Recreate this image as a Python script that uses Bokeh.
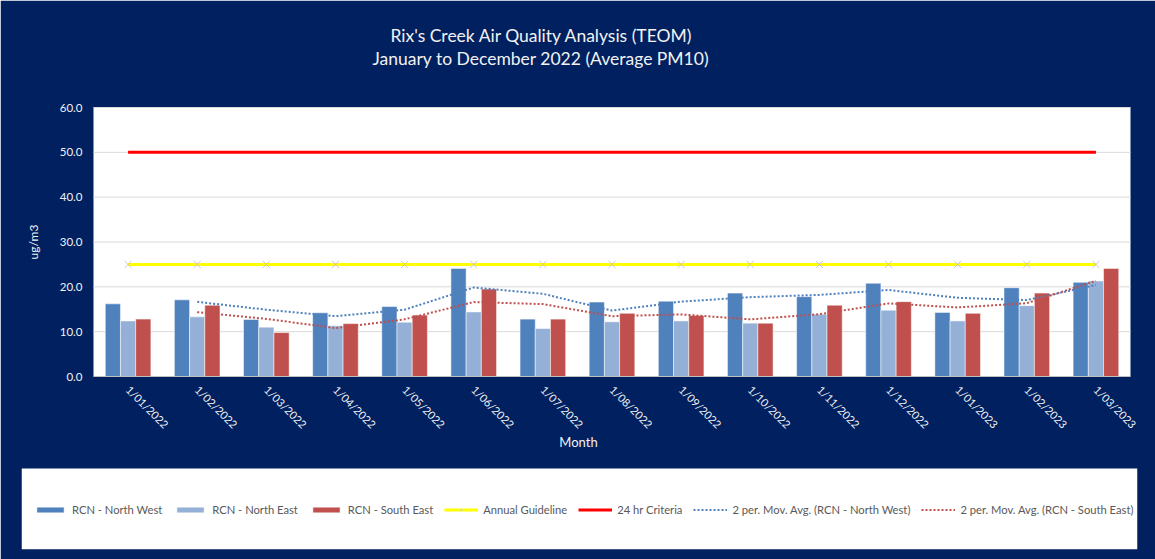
import math
import pandas as pd
from bokeh.plotting import figure
from bokeh.models import (ColumnDataSource, Legend, LegendItem, NumeralTickFormatter,
                          FixedTicker, Range1d, Title, BoxAnnotation, Label)
from bokeh.transform import dodge
from bokeh.embed import file_html
from bokeh.resources import INLINE

# ---------------- data ----------------
months = ["1/01/2022", "1/02/2022", "1/03/2022", "1/04/2022", "1/05/2022", "1/06/2022",
          "1/07/2022", "1/08/2022", "1/09/2022", "1/10/2022", "1/11/2022", "1/12/2022",
          "1/01/2023", "1/02/2023", "1/03/2023"]
north_west = [16.2, 17.1, 12.7, 14.2, 15.6, 24.1, 12.8, 16.6, 16.8, 18.6, 17.8, 20.8, 14.3, 19.8, 21.0]
north_east = [12.4, 13.3, 11.0, 11.3, 12.1, 14.4, 10.7, 12.2, 12.4, 11.9, 13.9, 14.8, 12.4, 15.8, 21.3]
south_east = [12.8, 15.9, 9.8, 11.8, 13.7, 19.5, 12.8, 14.1, 13.6, 11.9, 15.9, 16.7, 14.1, 18.6, 24.1]
annual_guideline = 25.0
criteria_24hr = 50.0
y_ticks = [0, 10, 20, 30, 40, 50, 60]

title_line1 = "Rix's Creek Air Quality Analysis (TEOM)"
title_line2 = "January to December 2022 (Average PM10)"
x_title = "Month"
y_title = "ug/m3"

FONT = "Lato"
NAVY = "#002060"
C_NW = "#4f81bd"
C_NE = "#95b0d6"
C_SE = "#c0504d"
C_YEL = "#ffff00"
C_RED = "#ff0000"
TXT = "#f2f2f2"

n = len(months)
x = list(range(n))
src = ColumnDataSource(dict(x=x, nw=north_west, ne=north_east, se=south_east))

ma_nw = pd.Series(north_west).rolling(2).mean().tolist()[1:]
ma_se = pd.Series(south_east).rolling(2).mean().tolist()[1:]

# ---------------- layout geometry (screen pixels) ----------------
W, H = 1155, 559
FR_L, FR_R, FR_T, FR_B = 21, 1137, 95, 549       # frame (incl. legend box)
PA_L, PA_R, PA_T, PA_B = 93, 1130, 107, 376      # white plot area
LEG_TOP = 468
Y_MAX = 60.0

xs = (PA_R - PA_L) / n                            # px per category
ys = (PA_B - PA_T) / Y_MAX                        # px per y unit
x_lo = -0.5 - (PA_L - FR_L) / xs
x_hi = n - 0.5 + (FR_R - PA_R) / xs
y_lo = -(FR_B - PA_B) / ys
y_hi = Y_MAX + (PA_T - FR_T) / ys

p = figure(width=W, height=H, output_backend="svg", toolbar_location=None,
           x_range=Range1d(x_lo, x_hi), y_range=Range1d(y_lo, y_hi),
           min_border_left=FR_L, min_border_right=W - FR_R,
           min_border_top=FR_T, min_border_bottom=H - FR_B,
           background_fill_color=NAVY, border_fill_color=NAVY)
p.outline_line_color = NAVY
p.outline_line_width = 2

# white plot area and white legend box
p.add_layout(BoxAnnotation(left=-0.5, right=n - 0.5, bottom=0, top=Y_MAX,
                           fill_color="white", fill_alpha=1.0, line_color=None,
                           level="underlay"))
p.add_layout(BoxAnnotation(top=-(LEG_TOP - PA_B) / ys,
                           fill_color="white", fill_alpha=1.0, line_color=None,
                           level="underlay"))

# ---- titles: first-added titles sit closest to the frame ----
def mk_title(t, **kw):
    kw.setdefault("text_font_size", "17.5px")
    return Title(text=t, align="left", text_color=TXT, text_font=FONT,
                 text_font_style="normal", **kw)

p.title.text = title_line1
p.title.align = "left"
p.title.offset = 297 + PA_L - FR_L
p.title.text_color = TXT
p.title.text_font = FONT
p.title.text_font_size = "17.5px"
p.title.text_font_style = "normal"
p.title.standoff = 0
p.add_layout(mk_title(" ", offset=0, standoff=35 - (PA_T - FR_T), text_font_size="2px"), "above")
p.add_layout(mk_title(title_line2, offset=279 + PA_L - FR_L, standoff=0,
                      text_line_height=0.95), "above")

# ---- axes (fixed inside the frame) ----
p.yaxis.fixed_location = -0.5
p.yaxis.bounds = (0, Y_MAX)
p.yaxis.ticker = FixedTicker(ticks=y_ticks)
p.yaxis.formatter = NumeralTickFormatter(format="0.0")
p.yaxis.axis_line_color = None
p.yaxis.major_tick_line_color = None
p.yaxis.minor_tick_line_color = None
p.yaxis.major_tick_out = 0
p.yaxis.major_tick_in = 0
p.yaxis.major_label_text_color = TXT
p.yaxis.major_label_text_font = FONT
p.yaxis.major_label_text_font_size = "11.5px"
p.yaxis.major_label_standoff = 11
p.yaxis.axis_label = y_title
p.yaxis.axis_label_text_color = TXT
p.yaxis.axis_label_text_font = FONT
p.yaxis.axis_label_text_font_size = "12px"
p.yaxis.axis_label_text_font_style = "normal"
p.yaxis.axis_label_standoff = 16

p.xaxis.fixed_location = 0
p.xaxis.bounds = (-0.5, n - 0.5)
p.xaxis.ticker = FixedTicker(ticks=x)
p.xaxis.major_label_overrides = {i: m for i, m in zip(x, months)}
p.xaxis.major_label_orientation = -math.pi / 4
p.xaxis.axis_line_color = "#bfbfbf"
p.xaxis.major_tick_line_color = None
p.xaxis.minor_tick_line_color = None
p.xaxis.major_tick_out = 0
p.xaxis.major_tick_in = 0
p.xaxis.major_label_text_color = TXT
p.xaxis.major_label_text_font = FONT
p.xaxis.major_label_text_font_size = "11px"
p.xaxis.major_label_standoff = 11

p.add_layout(Label(x=578 - FR_L, y=FR_B - 441, x_units="screen", y_units="screen",
                   text=x_title, text_align="center", text_baseline="middle",
                   text_color=TXT, text_font=FONT, text_font_size="13px"))

p.xgrid.visible = False
p.ygrid.visible = False
grid_y = [t for t in y_ticks if t > 0]
p.segment(x0=[-0.5] * len(grid_y), x1=[n - 0.5] * len(grid_y), y0=grid_y, y1=grid_y,
          line_color="#d9d9d9", line_width=1)

# ---- bars ----
bw = 0.22
r_nw = p.vbar(x=dodge("x", -bw, range=p.x_range), top="nw", width=bw, source=src,
              fill_color=C_NW, line_color="white", line_alpha=0.5)
r_ne = p.vbar(x="x", top="ne", width=bw, source=src,
              fill_color=C_NE, line_color="white", line_alpha=0.5)
r_se = p.vbar(x=dodge("x", bw, range=p.x_range), top="se", width=bw, source=src,
              fill_color=C_SE, line_color="white", line_alpha=0.5)

# ---- moving averages ----
r_ma_nw = p.line(x[1:], ma_nw, line_color=C_NW, line_width=2, line_dash="2 2")
r_ma_se = p.line(x[1:], ma_se, line_color=C_SE, line_width=2, line_dash="2 2")

# ---- guideline lines ----
ann = [annual_guideline] * n
crit = [criteria_24hr] * n
r_ann = p.line(x, ann, line_color=C_YEL, line_width=3)
r_ann_m = p.scatter(x, ann, marker="x", size=10, line_color="#c8c8c8", line_width=1)
r_crit = p.line(x, crit, line_color=C_RED, line_width=3)

# ---- legend (inside the frame, on the white box) ----
legend = Legend(items=[
    LegendItem(label="RCN - North West", renderers=[r_nw]),
    LegendItem(label="RCN - North East", renderers=[r_ne]),
    LegendItem(label="RCN - South East", renderers=[r_se]),
    LegendItem(label="Annual Guideline", renderers=[r_ann, r_ann_m]),
    LegendItem(label="24 hr Criteria", renderers=[r_crit]),
    LegendItem(label="2 per. Mov. Avg. (RCN - North West)", renderers=[r_ma_nw]),
    LegendItem(label="2 per. Mov. Avg. (RCN - South East)", renderers=[r_ma_se]),
], orientation="horizontal", location=(12, 32), padding=0, margin=0, spacing=11,
    glyph_width=34, glyph_height=7, label_height=15, label_standoff=5,
    label_text_font=FONT, label_text_font_size="11.2px", label_text_color="#595959",
    background_fill_alpha=0, border_line_color=None)
p.add_layout(legend)

open("out.html", "w").write(file_html(p, INLINE))
